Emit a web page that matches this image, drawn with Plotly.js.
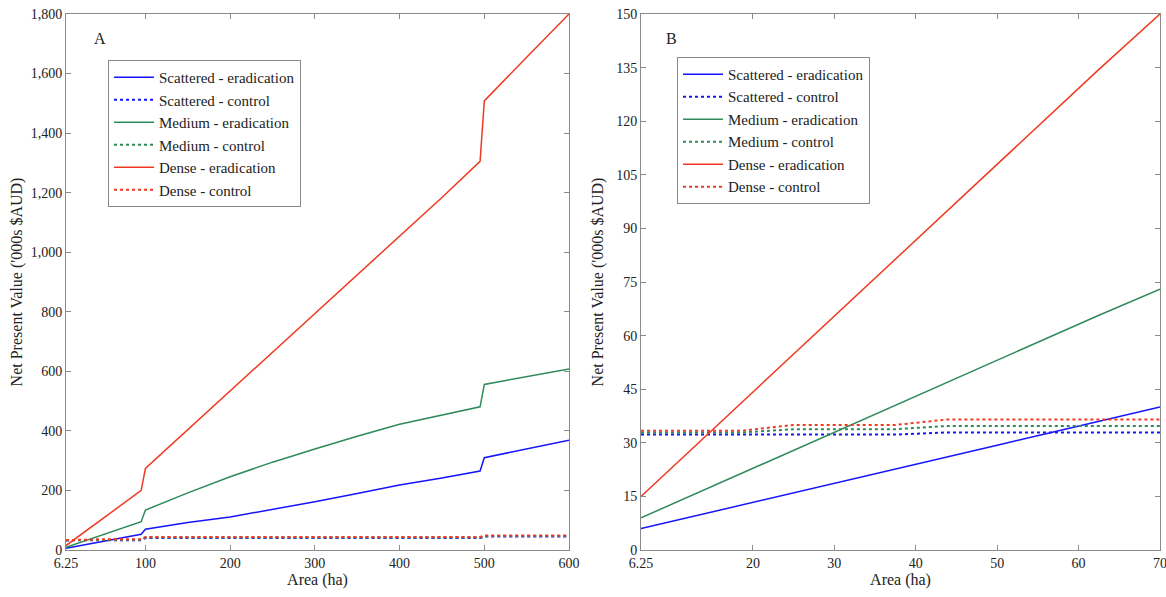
<!DOCTYPE html>
<html>
<head>
<meta charset="utf-8">
<script src="https://cdn.plot.ly/plotly-3.0.1.min.js"></script>
<style>html,body{margin:0;padding:0;background:#fff;}#chart{width:1166px;height:597px;}</style>
</head>
<body>
<div id="chart"></div>
<script>
// ---------- Panel A data ----------
const xEradA = [6.25, 50, 95, 100, 150, 200, 250, 300, 350, 400, 450, 495, 500, 550, 600];
const scatteredEradA = [6, 30, 53, 70, 92, 111, 136, 162, 190, 218, 242, 265, 310, 340, 369];
const mediumEradA = [9, 52, 95, 134, 192, 246, 295, 339, 382, 422, 453, 481, 556, 583, 608];
const denseEradA = [15, 106, 200, 274, 404, 534, 664, 794, 924, 1054, 1184, 1305, 1508, 1655, 1800];

const xCtrlA = [6.25, 18.75, 25, 37.5, 43.75, 95, 100, 495, 500, 600];
const scatteredCtrlA = [32.3, 32.3, 32.3, 32.3, 32.9, 32.9, 40, 40, 45, 45];
const mediumCtrlA = [32.9, 32.9, 33.8, 33.8, 34.7, 34.7, 42, 42, 47, 47];
const denseCtrlA = [33.4, 33.4, 35, 35, 36.5, 36.5, 44, 44, 49, 49];

const xTicksA = [6.25, 100, 200, 300, 400, 500, 600];
const xTickTextA = ['6.25', '100', '200', '300', '400', '500', '600'];

// ---------- Panel B data ----------
const xB = [6.25, 12.5, 18.75, 25, 31.25, 37.5, 43.75, 50, 56.25, 62.5, 70];
const scatteredEradB = [6, 9.3, 12.7, 16, 19.3, 22.7, 26, 29.3, 32.7, 36, 40];
const mediumEradB = [9, 15.3, 21.6, 27.9, 34.2, 40.5, 46.8, 53.1, 59.4, 65.7, 73];
const denseEradB = [15, 28.3, 41.6, 54.9, 68.1, 81.4, 94.6, 108, 121.2, 134.5, 150];
const scatteredCtrlB = [32.3, 32.3, 32.3, 32.3, 32.3, 32.3, 32.9, 32.9, 32.9, 32.9, 32.9];
const mediumCtrlB = [32.9, 32.9, 32.9, 33.8, 33.8, 33.8, 34.7, 34.7, 34.7, 34.7, 34.7];
const denseCtrlB = [33.4, 33.4, 33.4, 35, 35, 35, 36.5, 36.5, 36.5, 36.5, 36.5];

const xTicksB = [6.25, 20, 30, 40, 50, 60, 70];
const xTickTextB = ['6.25', '20', '30', '40', '50', '60', '70'];

const seriesNames = ['Scattered - eradication', 'Scattered - control', 'Medium - eradication',
                     'Medium - control', 'Dense - eradication', 'Dense - control'];

const BLUE = '#1414ff', GREEN = '#2f8a5a', RED = '#ee3a22';
const colors = [BLUE, BLUE, GREEN, GREEN, RED, RED];
const dashes = ['solid', 'dot', 'solid', 'dot', 'solid', 'dot'];

const dataA = [
  [xEradA, scatteredEradA], [xCtrlA, scatteredCtrlA],
  [xEradA, mediumEradA], [xCtrlA, mediumCtrlA],
  [xEradA, denseEradA], [xCtrlA, denseCtrlA]
];
const dataB = [
  [xB, scatteredEradB], [xB, scatteredCtrlB],
  [xB, mediumEradB], [xB, mediumCtrlB],
  [xB, denseEradB], [xB, denseCtrlB]
];

const traces = [];
dataA.forEach((d, i) => traces.push({
  x: d[0], y: d[1], type: 'scatter', mode: 'lines', name: seriesNames[i],
  line: {color: colors[i], width: dashes[i] === 'dot' ? 2 : 1.5, dash: dashes[i]},
  xaxis: 'x', yaxis: 'y', legend: 'legend'
}));
dataB.forEach((d, i) => traces.push({
  x: d[0], y: d[1], type: 'scatter', mode: 'lines', name: seriesNames[i],
  line: {color: colors[i], width: dashes[i] === 'dot' ? 2 : 1.5, dash: dashes[i]},
  xaxis: 'x2', yaxis: 'y2', legend: 'legend2'
}));

const FONT = 'Liberation Serif';
const axisCommon = {
  showline: true, linecolor: '#8a8a8a', linewidth: 1, mirror: 'ticks',
  ticks: 'inside', ticklen: 5, tickcolor: '#8a8a8a', showgrid: false, zeroline: false,
  tickfont: {family: FONT, size: 14, color: '#222'}, automargin: false,
  ticklabeloverflow: 'allow'
};
const legendCommon = {
  bgcolor: '#fff', bordercolor: '#888', borderwidth: 1,
  font: {family: FONT, size: 15, color: '#222'}, xanchor: 'left', yanchor: 'top',
  xref: 'paper', yref: 'paper', tracegroupgap: 0, itemwidth: 40
};

const layout = {
  width: 1166, height: 597,
  margin: {l: 66, r: 6, t: 14, b: 47},
  paper_bgcolor: '#fff', plot_bgcolor: '#fff',
  font: {family: FONT, color: '#222'},
  xaxis: Object.assign({}, axisCommon, {
    domain: [0, 0.4598], range: [6.25, 600], tickvals: xTicksA, ticktext: xTickTextA,
    title: {text: 'Area (ha)', font: {family: FONT, size: 16, color: '#222'}, standoff: 2}
  }),
  yaxis: Object.assign({}, axisCommon, {
    range: [0, 1800], dtick: 200, tickformat: ',d', anchor: 'x',
    title: {text: "Net Present Value ('000s $AUD)", font: {family: FONT, size: 16, color: '#222'}, standoff: 4}
  }),
  xaxis2: Object.assign({}, axisCommon, {
    domain: [0.5256, 1], range: [6.25, 70], tickvals: xTicksB, ticktext: xTickTextB, anchor: 'y2',
    title: {text: 'Area (ha)', font: {family: FONT, size: 16, color: '#222'}, standoff: 2}
  }),
  yaxis2: Object.assign({}, axisCommon, {
    range: [0, 150], dtick: 15, anchor: 'x2',
    title: {text: "Net Present Value ('000s $AUD)", font: {family: FONT, size: 16, color: '#222'}, standoff: 8}
  }),
  legend: Object.assign({}, legendCommon, {x: 0.0384, y: 0.914}),
  legend2: Object.assign({}, legendCommon, {x: 0.5585, y: 0.92}),
  annotations: [
    {text: 'A', xref: 'paper', yref: 'paper', x: 0.024, y: 0.955, showarrow: false,
     xanchor: 'left', yanchor: 'middle', font: {family: FONT, size: 16, color: '#222'}},
    {text: 'B', xref: 'paper', yref: 'paper', x: 0.5465, y: 0.955, showarrow: false,
     xanchor: 'left', yanchor: 'middle', font: {family: FONT, size: 16, color: '#222'}}
  ],
  showlegend: true
};

Plotly.newPlot('chart', traces, layout, {displayModeBar: false, staticPlot: true});
</script>
</body>
</html>
